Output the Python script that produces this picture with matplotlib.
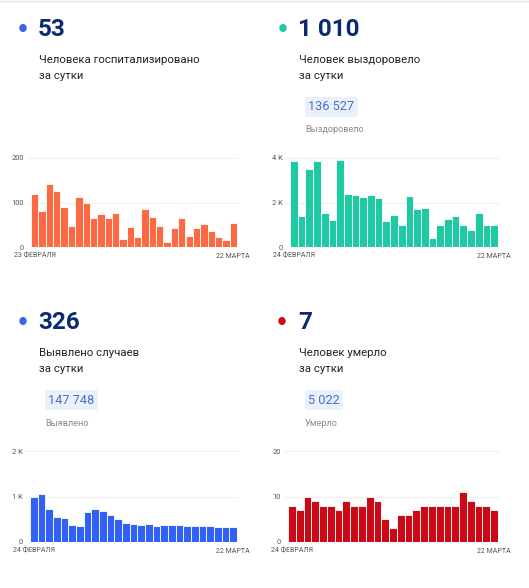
"""
COVID daily stats dashboard: four small bar panels with headline numbers.
"""

import matplotlib
matplotlib.use("Agg")
import matplotlib.pyplot as plt
from matplotlib.patches import FancyBboxPatch, Circle

plt.rcParams["font.family"] = ["Roboto", "DejaVu Sans"]

W, H = 529, 588

# --- data ---
hosp_values = [120, 82, 142, 125, 90, 48, 112, 100, 65, 75, 65, 76, 18, 46,
               22, 85, 68, 48, 12, 43, 66, 24, 43, 52, 35, 22, 15, 53]
recov_values = [3850, 1400, 3500, 3850, 1550, 1200, 3900, 2400, 2350, 2250,
                2350, 2200, 1150, 1450, 1000, 2300, 1700, 1750, 400, 1000,
                1250, 1400, 1000, 750, 1550, 1000, 1010]
cases_values = [1000, 1050, 720, 550, 520, 380, 360, 650, 720, 680, 600, 500,
                410, 390, 380, 390, 360, 370, 370, 370, 360, 360, 350, 350,
                340, 340, 326]
deaths_values = [8, 7, 10, 9, 8, 8, 7, 9, 8, 8, 10, 9, 5, 3, 6, 6, 7, 8, 8, 8,
                 8, 8, 11, 9, 8, 8, 7]

hosp_ticks = [0, 100, 200]
hosp_tick_labels = ["0", "100", "200"]
recov_ticks = [0, 2000, 4000]
recov_tick_labels = ["0", "2 K", "4 K"]
cases_ticks = [0, 1000, 2000]
cases_tick_labels = ["0", "1 K", "2 K"]
deaths_ticks = [0, 10, 20]
deaths_tick_labels = ["0", "10", "20"]

headline = ["53", "1 010", "326", "7"]
subtitle = [
    "Человека госпитализировано\nза сутки",
    "Человек выздоровело\nза сутки",
    "Выявлено случаев\nза сутки",
    "Человек умерло\nза сутки",
]
totals = [None, "136 527", "147 748", "5 022"]
total_labels = [None, "Выздоровело", "Выявлено", "Умерло"]

NAVY = "#0b2a6f"
BLUE_DOT = "#3b63e6"
colors = ["#fc6a43", "#1ec9a3", "#3262f5", "#c90a16"]
dot_colors = [BLUE_DOT, "#1ec9a3", BLUE_DOT, "#c90a16"]


def fx(px):
    return px / W


def fy(py):
    return 1 - py / H


def header(fig, i, x0, y0, dot_x):
    fig.patches.append(Circle((fx(dot_x), fy(y0 + 28)), 3.0 / W,
                              transform=fig.transFigure, color=dot_colors[i]))
    fig.text(fx(x0 - 1), fy(y0 + 29), headline[i], fontsize=17.5,
             fontweight="bold", color=NAVY, va="center", ha="left")
    l1, l2 = subtitle[i].split("\n")
    fig.text(fx(x0), fy(y0 + 60), l1, fontsize=8.2, color="#222222",
             va="center", ha="left")
    fig.text(fx(x0), fy(y0 + 76), l2, fontsize=8.2, color="#222222",
             va="center", ha="left")
    if totals[i]:
        bx = x0 + 6
        bw = 38 if len(totals[i]) < 6 else 53
        fig.patches.append(FancyBboxPatch(
            (fx(bx), fy(y0 + 117)), bw / W, 20 / H,
            boxstyle="round,pad=0,rounding_size=0.004",
            transform=fig.transFigure, facecolor="#ebf1fb", edgecolor="none"))
        fig.text(fx(bx + 3.5), fy(y0 + 107), totals[i], fontsize=9.2,
                 color="#4a6fd3", va="center", ha="left")
        fig.text(fx(bx), fy(y0 + 130), total_labels[i], fontsize=6.6,
                 color="#8a8a8a", va="center", ha="left")


def bars(fig, values, ticks, tick_labels, color, left, right, top, bottom,
         first_label):
    ax = fig.add_axes([fx(left), fy(bottom), (right - left) / W,
                       (bottom - top) / H])
    n = len(values)
    ax.bar(range(n), values, width=1.0, color=color, edgecolor="white",
           linewidth=0.6, zorder=2)
    ax.set_xlim(-0.5, n - 0.5)
    ax.set_ylim(0, ticks[-1])
    for t in ticks[1:]:
        ax.axhline(t, xmin=-0.02, xmax=1.0, color="#efefef", linewidth=0.8,
                   zorder=1, clip_on=False)
    ax.set_yticks(ticks)
    ax.set_yticklabels(tick_labels)
    ax.set_xticks([0, n - 1])
    ax.set_xticklabels([first_label, "22 МАРТА"])
    ax.tick_params(axis="y", length=0, pad=5, labelsize=5.4,
                   labelcolor="#555555")
    ax.tick_params(axis="x", length=0, pad=4, labelsize=5.1,
                   labelcolor="#555555")
    for s in ax.spines.values():
        s.set_visible(False)
    ax.patch.set_alpha(0)
    return ax


fig = plt.figure(figsize=(W / 100, H / 100), dpi=100)
fig.patch.set_facecolor("white")

header(fig, 0, 39, 0, 23)
header(fig, 1, 299, 0, 283)
header(fig, 2, 39, 293, 23)
header(fig, 3, 299, 293, 282)

bars(fig, hosp_values, hosp_ticks, hosp_tick_labels, colors[0],
     31, 237, 158, 247, "23 ФЕВРАЛЯ")
bars(fig, recov_values, recov_ticks, recov_tick_labels, colors[1],
     290, 498, 158, 247, "24 ФЕВРАЛЯ")
bars(fig, cases_values, cases_ticks, cases_tick_labels, colors[2],
     30, 237, 451, 542, "24 ФЕВРАЛЯ")
bars(fig, deaths_values, deaths_ticks, deaths_tick_labels, colors[3],
     288, 498, 451, 542, "24 ФЕВРАЛЯ")

fig.add_artist(plt.Line2D([0, 1], [fy(1), fy(1)], transform=fig.transFigure,
                          color="#e4e4e4", linewidth=1))

fig.savefig("out.png", dpi=100)
